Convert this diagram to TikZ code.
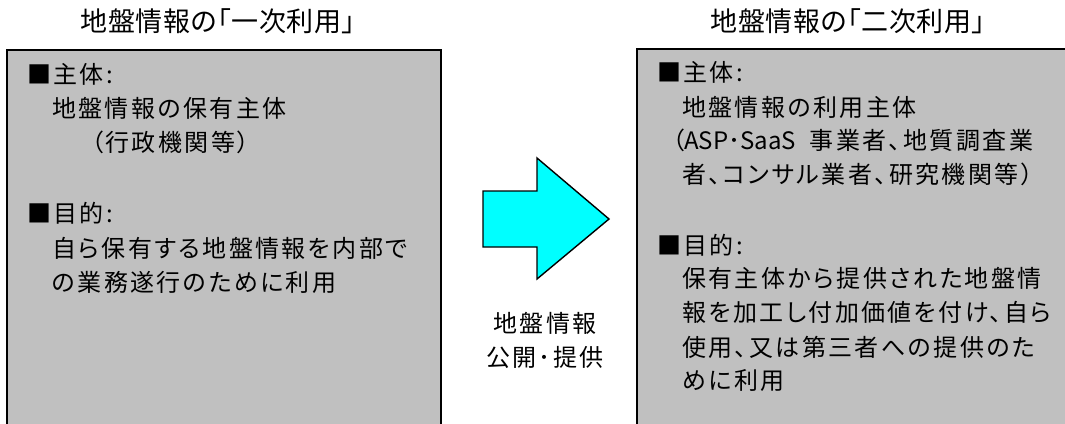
\documentclass[tikz,border=0pt]{standalone}
\usepackage{fontspec}
\newfontfamily\jp[LetterSpace=10,RawFeature=+palt]{Noto Sans CJK JP}
\newfontfamily\jptitle[LetterSpace=2,RawFeature=+palt]{Noto Sans CJK JP}
\newfontfamily\jpl{Noto Sans CJK JP}
\definecolor{boxgray}{HTML}{C0C0C0}
\definecolor{arrowcyan}{HTML}{00FFFF}
\begin{document}
\begin{tikzpicture}[x=1pt,y=-1pt,
  txt/.style={anchor=west,inner sep=0pt,font=\fontsize{24pt}{28pt}\jp},
  ctxt/.style={anchor=center,inner sep=0pt,font=\fontsize{24pt}{28pt}\jp},
  ttl/.style={anchor=center,inner sep=0pt,font=\fontsize{27pt}{30pt}\jptitle},
  panel/.style={draw=black,line width=1.6pt,fill=boxgray},
  bigarrow/.style={draw=black,line width=1.4pt,fill=arrowcyan,line join=miter}]
\useasboundingbox (0,0) rectangle (1065,423);
\clip (0,0) rectangle (1065,423);
% panels
\draw[panel] (7,50) rectangle (441,440);
\draw[panel] (637,49) rectangle (1090,440);
% titles
\node[ttl] (t1) at (218,21) {地盤情報の「一次利用」};
\node[ttl] (t2) at (848,21) {地盤情報の「二次利用」};
% left panel text
\node[txt] (l1) at (27,74) {■主体:};
\node[txt] (l2) at (52,108) {地盤情報の保有主体};
\node[txt] (l3) at (91,142) {（行政機関等）};
\node[txt] (l4) at (27,213) {■目的:};
\node[txt] (l5) at (52,248) {自ら保有する地盤情報を内部で};
\node[txt] (l6) at (52,282) {の業務遂行のために利用};
% right panel text
\node[txt] (r1) at (657,72) {■主体:};
\node[txt] (r2) at (682,107) {地盤情報の利用主体};
\node[txt] (r3) at (672,140) {（{\jpl ASP･SaaS}\hspace{14pt}事業者、地質調査業};
\node[txt] (r4) at (682,174) {者、コンサル業者、研究機関等）};
\node[txt] (r5) at (657,245) {■目的:};
\node[txt] (r6) at (682,278) {保有主体から提供された地盤情};
\node[txt] (r7) at (682,312) {報を加工し付加価値を付け、自ら};
\node[txt] (r8) at (682,347) {使用、又は第三者への提供のた};
\node[txt] (r9) at (682,381) {めに利用};
% arrow
\draw[bigarrow] (483,191) -- (537,191) -- (537,158) -- (609,219) -- (537,279) -- (537,247) -- (483,247) -- cycle;
\node[ctxt] (m1) at (545,323) {地盤情報};
\node[ctxt] (m2) at (545,357) {公開･提供};
\end{tikzpicture}
\end{document}
